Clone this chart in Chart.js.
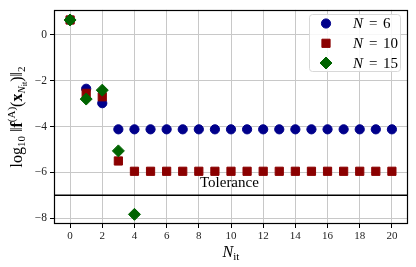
<!DOCTYPE html>
<html>
<head>
<meta charset="utf-8">
<script src="https://cdn.jsdelivr.net/npm/chart.js@4.4.1/dist/chart.umd.min.js"></script>
<style>
  html, body { margin: 0; padding: 0; background: #fff; }
</style>
</head>
<body>
<canvas id="chart" width="416" height="267"></canvas>
<script>
// iteration index and log10 residual norms per N
const iterations = [0, 1, 2, 3, 4, 5, 6, 7, 8, 9, 10, 11, 12, 13, 14, 15, 16, 17, 18, 19, 20];
const n6Values = [0.65, -2.35, -2.98, -4.12, -4.12, -4.12, -4.12, -4.12, -4.12, -4.12, -4.12,
  -4.12, -4.12, -4.12, -4.12, -4.12, -4.12, -4.12, -4.12, -4.12, -4.12];
const n10Values = [0.65, -2.55, -2.7, -5.5, -5.95, -5.95, -5.95, -5.95, -5.95, -5.95, -5.95,
  -5.95, -5.95, -5.95, -5.95, -5.95, -5.95, -5.95, -5.95, -5.95, -5.95];
const n15Values = [0.65, -2.8, -2.41, -5.06, -7.83];
const seriesLabels = ["6", "10", "15"];
const xTicks = [0, 2, 4, 6, 8, 10, 12, 14, 16, 18, 20];
const yTicks = [-8, -6, -4, -2, 0];
const tolerance = -7;
const toleranceLabel = "Tolerance";

const colors = ["#00008b", "#8b0000", "#006400"];
const styles = ["circle", "rect", "rectRot"];
const radii = [4.6, 5.8, 6];
const SERIF = "'Liberation Serif', 'DejaVu Serif', serif";

const pairs = (vals) => vals.map((v, i) => ({ x: iterations[i], y: v }));

const decorations = {
  id: "decorations",
  afterDatasetsDraw(chart) {
    const ctx = chart.ctx;
    const a = chart.chartArea;
    const xs = chart.scales.x, ys = chart.scales.y;
    ctx.save();
    // frame
    ctx.strokeStyle = "#000";
    ctx.lineWidth = 1.2;
    ctx.strokeRect(Math.round(a.left) + 0.5, Math.round(a.top) + 0.5,
      Math.round(a.right - a.left) - 1, Math.round(a.bottom - a.top) - 1);

    // tolerance text
    ctx.fillStyle = "#000";
    ctx.font = "15px " + SERIF;
    ctx.textAlign = "center";
    ctx.textBaseline = "middle";
    ctx.fillText(toleranceLabel, xs.getPixelForValue(9.9), ys.getPixelForValue(-6.48));

    // legend
    ctx.beginPath();
    ctx.roundRect(309.5, 14.5, 91, 57, 3);
    ctx.fillStyle = "rgba(255,255,255,0.85)";
    ctx.fill();
    ctx.lineWidth = 1;
    ctx.strokeStyle = "#d8d8d8";
    ctx.stroke();
    const rows = [23.5, 43.3, 63];
    ctx.textAlign = "left";
    ctx.textBaseline = "middle";
    seriesLabels.forEach((lab, i) => {
      ctx.fillStyle = colors[i];
      ctx.strokeStyle = colors[i];
      Chart.helpers.drawPoint(ctx, { pointStyle: styles[i], radius: radii[i], rotation: 0, borderWidth: 1 }, 326, rows[i]);
      ctx.fillStyle = "#000";
      ctx.font = "italic 15px " + SERIF;
      ctx.fillText("N", 353, rows[i] + 1);
      ctx.font = "15px " + SERIF;
      ctx.fillText("=", 369, rows[i] + 1);
      ctx.fillText(lab, 383, rows[i] + 1);
    });

    // axis titles
    ctx.textBaseline = "alphabetic";
    drawRuns(ctx, [
      { t: "N", f: "italic 16px " + SERIF },
      { t: "it", f: "11px " + SERIF, dy: 3 }
    ], (a.left + a.right) / 2, 257);

    ctx.translate(22, (a.top + a.bottom) / 2);
    ctx.rotate(-Math.PI / 2);
    drawRuns(ctx, [
      { t: "log", f: "16px " + SERIF },
      { t: "10", f: "11px " + SERIF, dy: 3 },
      { t: " \u2016", f: "16px " + SERIF },
      { t: "f", f: "bold 16px " + SERIF },
      { t: "(A)", f: "11px " + SERIF, dy: -7 },
      { t: "(", f: "16px " + SERIF },
      { t: "x", f: "bold 16px " + SERIF },
      { t: "N", f: "italic 11px " + SERIF, dy: 3 },
      { t: "it", f: "8px " + SERIF, dy: 5 },
      { t: ")\u2016", f: "16px " + SERIF },
      { t: "2", f: "11px " + SERIF, dy: 3 }
    ], 0, 0);
    ctx.restore();
  }
};

function drawRuns(ctx, runs, cx, y) {
  let total = 0;
  runs.forEach(r => { ctx.font = r.f; r.w = ctx.measureText(r.t).width; total += r.w; });
  let x = cx - total / 2;
  ctx.textAlign = "left";
  ctx.fillStyle = "#000";
  runs.forEach(r => { ctx.font = r.f; ctx.fillText(r.t, x, y + (r.dy || 0)); x += r.w; });
}

const pointSet = (label, vals, i, order) => ({
  label: label,
  data: pairs(vals),
  showLine: false,
  pointStyle: styles[i],
  pointRadius: radii[i],
  pointHoverRadius: radii[i],
  pointBackgroundColor: colors[i],
  pointBorderColor: colors[i],
  pointBorderWidth: 1,
  order: order
});

new Chart(document.getElementById("chart"), {
  type: "scatter",
  data: {
    datasets: [
      pointSet("N = 6", n6Values, 0, 3),
      pointSet("N = 10", n10Values, 1, 2),
      pointSet("N = 15", n15Values, 2, 1),
      {
        label: toleranceLabel,
        data: [{ x: -1, y: tolerance }, { x: 21, y: tolerance }],
        showLine: true,
        borderColor: "#000",
        borderWidth: 1.5,
        pointRadius: 0,
        order: 4
      }
    ]
  },
  options: {
    responsive: false,
    animation: false,
    devicePixelRatio: 1,
    layout: { padding: { top: 7, right: 8, left: 0, bottom: 0 } },
    plugins: { legend: { display: false }, tooltip: { enabled: false } },
    scales: {
      x: {
        type: "linear",
        min: -1,
        max: 21,
        afterBuildTicks: (s) => { s.ticks = xTicks.map(v => ({ value: v })); },
        afterFit: (s) => { s.height = 43; },
        ticks: { color: "#222", font: { family: SERIF, size: 11 }, padding: 2, maxRotation: 0 },
        grid: { color: "#c8c8c8", lineWidth: 1, tickColor: "#000", tickLength: 4 },
        border: { display: false }
      },
      y: {
        min: -8.25,
        max: 1.09,
        afterBuildTicks: (s) => { s.ticks = yTicks.map(v => ({ value: v })); },
        afterFit: (s) => { s.width = 54; },
        ticks: {
          color: "#222",
          font: { family: SERIF, size: 11.5 },
          padding: 3,
          callback: (v) => (v < 0 ? "\u2212" + Math.abs(v) : String(v))
        },
        grid: { color: "#c8c8c8", lineWidth: 1, tickColor: "#000", tickLength: 4 },
        border: { display: false }
      }
    }
  },
  plugins: [decorations]
});
</script>
</body>
</html>
